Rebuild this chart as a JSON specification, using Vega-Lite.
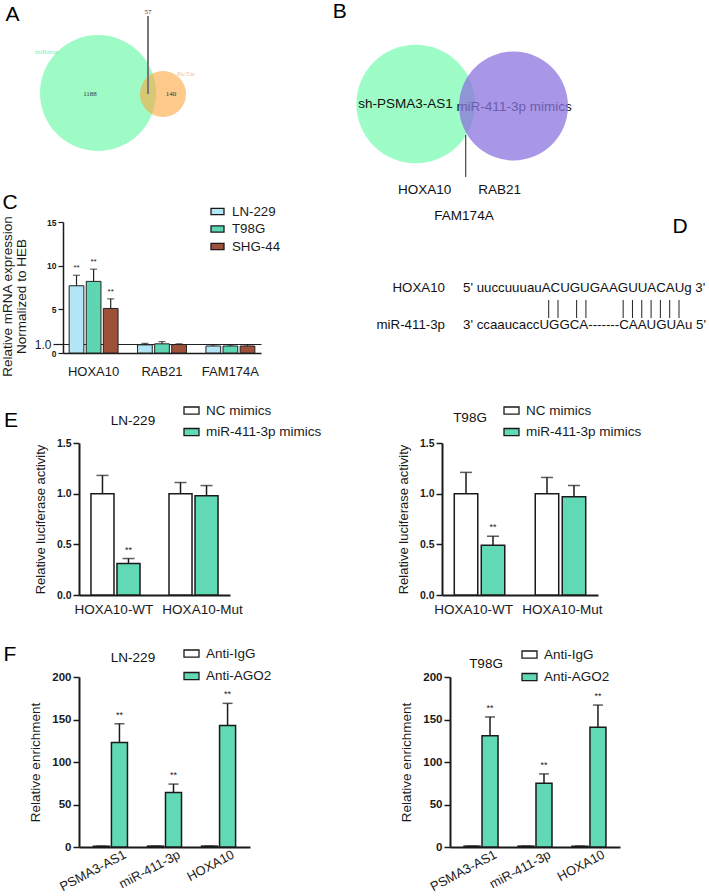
{
"$schema":"https://vega.github.io/schema/vega-lite/v6.json",
"padding":0,
"columns":4,
"align":"each",
"bounds":"flush",
"spacing":0,
"resolve":{"scale":{"x":"independent","y":"independent","fill":"independent","color":"independent","size":"independent"},"legend":{"fill":"independent","color":"independent","size":"independent"},"axis":{"x":"independent","y":"independent"}},
"config":{
 "font":"Liberation Sans",
 "view":{"stroke":null},
 "axis":{"grid":false,"domainColor":"#1a1a1a","tickColor":"#1a1a1a","labelColor":"#1a1a1a","titleColor":"#1a1a1a","titleFontWeight":"normal"},
 "legend":{"padding":0,"labelColor":"#1a1a1a","symbolType":"M-1,-0.47H1V0.47H-1Z","symbolStrokeColor":"#1a1a1a","symbolStrokeWidth":1.3,"symbolOpacity":1},
 "text":{"color":"#1a1a1a"}
},
"datasets":{
 "vennA_sets":[{"set":"miRmap","n":1245},{"set":"PicTar","n":197}],
 "vennA_regions":[{"region":"miRmap only","count":1188},{"region":"PicTar only","count":140}],
 "vennA_both":[{"region":"both","count":57}],
 "vennB_names":[{"set":"sh-PSMA3-AS1"},{"set":"miR-411-3p mimics"}],
 "mrna":[
  {"bar":"HOXA10 LN-229","gene":"HOXA10","line":"LN-229","value":7.7,"hi":8.9,"sig":"**"},
  {"bar":"HOXA10 T98G","gene":"HOXA10","line":"T98G","value":8.2,"hi":9.6,"sig":"**"},
  {"bar":"HOXA10 SHG-44","gene":"HOXA10","line":"SHG-44","value":5.1,"hi":6.2,"sig":"**"},
  {"bar":"RAB21 LN-229","gene":"RAB21","line":"LN-229","value":0.93,"hi":1.1,"sig":""},
  {"bar":"RAB21 T98G","gene":"RAB21","line":"T98G","value":1.05,"hi":1.3,"sig":""},
  {"bar":"RAB21 SHG-44","gene":"RAB21","line":"SHG-44","value":0.97,"hi":1.05,"sig":""},
  {"bar":"FAM174A LN-229","gene":"FAM174A","line":"LN-229","value":0.8,"hi":0.95,"sig":""},
  {"bar":"FAM174A T98G","gene":"FAM174A","line":"T98G","value":0.8,"hi":0.93,"sig":""},
  {"bar":"FAM174A SHG-44","gene":"FAM174A","line":"SHG-44","value":0.8,"hi":0.95,"sig":""}],
 "seq":[{"strand":"HOXA10","seq":"5' uuccuuuauACUGUGAAGUUACAUg 3'"},{"strand":"miR-411-3p","seq":"3' ccaaucaccUGGCA-------CAAUGUAu 5'"}],
 "pairs":[{"pos":12},{"pos":13},{"pos":15},{"pos":16},{"pos":20},{"pos":21},{"pos":22},{"pos":23},{"pos":24},{"pos":25},{"pos":26}],
 "luc_ln229":[
  {"bar":"HOXA10-WT NC","group":"NC mimics","value":1.0,"hi":1.18,"sig":""},
  {"bar":"HOXA10-WT miR","group":"miR-411-3p mimics","value":0.31,"hi":0.36,"sig":"**"},
  {"bar":"HOXA10-Mut NC","group":"NC mimics","value":1.0,"hi":1.11,"sig":""},
  {"bar":"HOXA10-Mut miR","group":"miR-411-3p mimics","value":0.98,"hi":1.08,"sig":""}],
 "luc_t98g":[
  {"bar":"HOXA10-WT NC","group":"NC mimics","value":1.0,"hi":1.21,"sig":""},
  {"bar":"HOXA10-WT miR","group":"miR-411-3p mimics","value":0.49,"hi":0.58,"sig":"**"},
  {"bar":"HOXA10-Mut NC","group":"NC mimics","value":1.0,"hi":1.16,"sig":""},
  {"bar":"HOXA10-Mut miR","group":"miR-411-3p mimics","value":0.97,"hi":1.08,"sig":""}],
 "rip_ln229":[
  {"bar":"PSMA3-AS1 IgG","ab":"Anti-IgG","value":1,"hi":1,"sig":""},
  {"bar":"PSMA3-AS1 AGO2","ab":"Anti-AGO2","value":123,"hi":145,"sig":"**"},
  {"bar":"miR-411-3p IgG","ab":"Anti-IgG","value":1,"hi":1,"sig":""},
  {"bar":"miR-411-3p AGO2","ab":"Anti-AGO2","value":64,"hi":74,"sig":"**"},
  {"bar":"HOXA10 IgG","ab":"Anti-IgG","value":1,"hi":1,"sig":""},
  {"bar":"HOXA10 AGO2","ab":"Anti-AGO2","value":143,"hi":169,"sig":"**"}],
 "rip_t98g":[
  {"bar":"PSMA3-AS1 IgG","ab":"Anti-IgG","value":1,"hi":1,"sig":""},
  {"bar":"PSMA3-AS1 AGO2","ab":"Anti-AGO2","value":131,"hi":153,"sig":"**"},
  {"bar":"miR-411-3p IgG","ab":"Anti-IgG","value":1,"hi":1,"sig":""},
  {"bar":"miR-411-3p AGO2","ab":"Anti-AGO2","value":75,"hi":86,"sig":"**"},
  {"bar":"HOXA10 IgG","ab":"Anti-IgG","value":1,"hi":1,"sig":""},
  {"bar":"HOXA10 AGO2","ab":"Anti-AGO2","value":141,"hi":167,"sig":"**"}]
},
"concat":[
 {"width":60,"height":222,
  "layer":[
   {"data":{"name":"vennA_sets"},"mark":{"type":"point","filled":true,"shape":"circle","strokeWidth":0,"opacity":0.6},
    "encoding":{
     "x":{"field":"set","type":"nominal","scale":{"type":"point","domain":["miRmap","PicTar"],"range":[95,160],"padding":0},"axis":null},
     "y":{"field":"set","type":"nominal","scale":{"type":"point","domain":["miRmap","PicTar"],"range":[93,94],"padding":0},"axis":null},
     "size":{"field":"n","type":"quantitative","scale":{"domain":[0,1245],"range":[0,13456]},"legend":null},
     "color":{"field":"set","type":"nominal","scale":{"domain":["miRmap","PicTar"],"range":["#5ff8a0","#fca73f"]},"legend":null}}},
   {"data":{"name":"vennA_regions"},"mark":{"type":"text","font":"Liberation Serif","fontSize":7,"color":"#333333"},
    "encoding":{"text":{"field":"count"},
     "x":{"field":"region","type":"nominal","scale":{"type":"point","domain":["miRmap only","PicTar only"],"range":[87,168],"padding":0},"axis":null},
     "y":{"field":"region","type":"nominal","scale":{"type":"point","range":[94,94],"padding":0},"axis":null}}},
   {"data":{"name":"vennA_sets"},"mark":{"type":"text","font":"Liberation Serif","fontSize":7},
    "encoding":{"text":{"field":"set"},
     "x":{"field":"set","type":"nominal","scale":{"type":"point","domain":["miRmap","PicTar"],"range":[44,183],"padding":0},"axis":null},
     "y":{"field":"set","type":"nominal","scale":{"type":"point","domain":["miRmap","PicTar"],"range":[52,74],"padding":0},"axis":null},
     "color":{"field":"set","type":"nominal","scale":{"domain":["miRmap","PicTar"],"range":["#86eeb0","#f7bf7e"]},"legend":null}}},
   {"data":{"name":"vennA_both"},"mark":{"type":"rule","color":"#777777","strokeWidth":2},
    "encoding":{
     "x":{"field":"region","type":"nominal","scale":{"type":"point","range":[145,145],"padding":0},"axis":null},
     "y":{"datum":"top","type":"nominal","scale":{"type":"point","domain":["top","bottom"],"range":[16,94],"padding":0},"axis":null},
     "y2":{"datum":"bottom"}}},
   {"data":{"name":"vennA_both"},"mark":{"type":"text","font":"Liberation Serif","fontSize":7,"color":"#333333"},
    "encoding":{"text":{"field":"count"},
     "x":{"field":"region","type":"nominal","scale":{"type":"point","range":[145,145],"padding":0},"axis":null},
     "y":{"field":"region","type":"nominal","scale":{"type":"point","range":[12,12],"padding":0},"axis":null}}},
   {"data":{"values":[{"k":"A"}]},"mark":{"type":"text","fontSize":21,"color":"#000000"},
    "encoding":{"text":{"field":"k"},
     "x":{"field":"k","type":"nominal","scale":{"type":"point","range":[9.5,9.5],"padding":0},"axis":null},
     "y":{"field":"k","type":"nominal","scale":{"type":"point","range":[15,15],"padding":0},"axis":null}}}
  ],
  "resolve":{"scale":{"x":"independent","y":"independent","color":"independent","size":"independent"}}
 },
 {"width":1,"height":1,"data":{"values":[]},"mark":"point"},
 {"width":181,"height":222,
  "layer":[
   {"data":{"values":[{"set":"sh-PSMA3-AS1"}]},"mark":{"type":"point","filled":true,"shape":"circle","strokeWidth":0,"opacity":1,"color":"#9efcc7","size":14065},
    "encoding":{
     "x":{"field":"set","type":"nominal","scale":{"type":"point","range":[154.7,154.7],"padding":0},"axis":null},
     "y":{"field":"set","type":"nominal","scale":{"type":"point","range":[104,104],"padding":0},"axis":null}}},
   {"data":{"name":"vennB_names"},"mark":{"type":"text","fontSize":13.5,"color":"#111111"},
    "encoding":{"text":{"field":"set"},
     "x":{"field":"set","type":"nominal","scale":{"type":"point","domain":["sh-PSMA3-AS1","miR-411-3p mimics"],"range":[144.5,253],"padding":0},"axis":null},
     "y":{"field":"set","type":"nominal","scale":{"type":"point","domain":["sh-PSMA3-AS1","miR-411-3p mimics"],"range":[104,107],"padding":0},"axis":null}}},
   {"data":{"values":[{"set":"miR-411-3p mimics"}]},"mark":{"type":"point","filled":true,"shape":"circle","strokeWidth":0,"opacity":0.75,"color":"#8b73dd","size":11881},
    "encoding":{
     "x":{"field":"set","type":"nominal","scale":{"type":"point","range":[252.5,252.5],"padding":0},"axis":null},
     "y":{"field":"set","type":"nominal","scale":{"type":"point","range":[106,106],"padding":0},"axis":null}}},
   {"data":{"values":[{"region":"overlap"}]},"mark":{"type":"rule","color":"#444444","strokeWidth":1.2},
    "encoding":{
     "x":{"field":"region","type":"nominal","scale":{"type":"point","range":[204.7,204.7],"padding":0},"axis":null},
     "y":{"datum":"top","type":"nominal","scale":{"type":"point","domain":["top","bottom"],"range":[135,177],"padding":0},"axis":null},
     "y2":{"datum":"bottom"}}},
   {"data":{"values":[{"gene":"HOXA10"},{"gene":"RAB21"}]},"mark":{"type":"text","fontSize":13.5,"color":"#111111"},
    "encoding":{"text":{"field":"gene"},
     "x":{"field":"gene","type":"nominal","scale":{"type":"point","domain":["HOXA10","RAB21"],"range":[163.7,238.7],"padding":0},"axis":null},
     "y":{"field":"gene","type":"nominal","scale":{"type":"point","range":[190,190],"padding":0},"axis":null}}},
   {"data":{"values":[{"gene":"FAM174A"}]},"mark":{"type":"text","fontSize":13.5,"color":"#111111"},
    "encoding":{"text":{"field":"gene"},
     "x":{"field":"gene","type":"nominal","scale":{"type":"point","range":[203,203],"padding":0},"axis":null},
     "y":{"field":"gene","type":"nominal","scale":{"type":"point","range":[216,216],"padding":0},"axis":null}}},
   {"data":{"values":[{"k":"B"}]},"mark":{"type":"text","fontSize":21,"color":"#000000"},
    "encoding":{"text":{"field":"k"},
     "x":{"field":"k","type":"nominal","scale":{"type":"point","range":[78.7,78.7],"padding":0},"axis":null},
     "y":{"field":"k","type":"nominal","scale":{"type":"point","range":[12,12],"padding":0},"axis":null}}}
  ],
  "resolve":{"scale":{"x":"independent","y":"independent"}}
 },
 {"width":1,"height":1,"data":{"values":[]},"mark":"point"},

 {"width":60,"height":221,"data":{"values":[{"k":"C"}]},"mark":{"type":"text","fontSize":21,"color":"#000000"},
  "encoding":{"text":{"field":"k"},
   "x":{"field":"k","type":"nominal","scale":{"type":"point","range":[7,7],"padding":0},"axis":null},
   "y":{"field":"k","type":"nominal","scale":{"type":"point","range":[-19,-19],"padding":0},"axis":null}}},
 {"width":198,"height":131,"data":{"name":"mrna"},
  "encoding":{
   "x":{"field":"bar","type":"nominal","scale":{"type":"band","domain":["HOXA10 LN-229","HOXA10 T98G","HOXA10 SHG-44","gap 1","RAB21 LN-229","RAB21 T98G","RAB21 SHG-44","gap 2","FAM174A LN-229","FAM174A T98G","FAM174A SHG-44"],"paddingInner":0.14,"paddingOuter":0.36},
    "axis":{"title":null,"values":["HOXA10 T98G","RAB21 T98G","FAM174A T98G"],"labelExpr":"split(datum.value, ' ')[0]","labelAngle":0,"labelFontSize":13,"ticks":false,"labelPadding":12,"domainWidth":1.5}},
   "y":{"field":"value","type":"quantitative","scale":{"domain":[0,15]},
    "axis":{"title":["Relative mRNA expression","Normalized to HEB"],"titleFontSize":13.5,"titlePadding":6,"titleLineHeight":14,"titleY":74,
     "values":[0,1,5,10,15],"labelExpr":"datum.value == 1 ? '1.0' : datum.label",
     "labelFontSize":{"condition":{"test":"datum.value == 1","value":12},"value":8.5},
     "labelFontWeight":{"condition":{"test":"datum.value == 1","value":"normal"},"value":"bold"},
     "tickSize":{"condition":{"test":"datum.value == 1","value":10},"value":5},
     "grid":true,"gridColor":"#222222","gridWidth":1,"gridOpacity":{"condition":{"test":"datum.value == 1","value":1},"value":0},
     "labelPadding":2,"tickWidth":1.2,"domainWidth":1.5}}},
  "layer":[
   {"mark":{"type":"bar","stroke":"#222222","strokeWidth":1},
    "encoding":{
     "fill":{"field":"line","type":"nominal","scale":{"domain":["LN-229","T98G","SHG-44"],"range":["#b2e5f6","#5fd6b2","#9e503b"]},
      "legend":{"title":null,"orient":"none","legendX":147,"legendY":-18,"labelFontSize":13.3,"symbolSize":169,"rowPadding":3.5,"labelOffset":7}}}},
   {"mark":{"type":"rule","color":"#222222","strokeWidth":1.2},"encoding":{"y2":{"field":"hi"}}},
   {"mark":{"type":"tick","color":"#222222","thickness":1.2,"size":7},"encoding":{"y":{"field":"hi","type":"quantitative"}}},
   {"mark":{"type":"text","baseline":"bottom","dy":-3,"fontSize":8,"color":"#222222"},"encoding":{"y":{"field":"hi","type":"quantitative"},"text":{"field":"sig"}}}
  ]
 },
 {"width":181,"height":221,
  "layer":[
   {"data":{"name":"seq"},"mark":{"type":"text","align":"right","fontSize":13.3,"color":"#111111"},
    "encoding":{"text":{"field":"strand"},
     "x":{"field":"strand","type":"nominal","scale":{"type":"point","range":[184,184],"padding":0},"axis":null},
     "y":{"field":"strand","type":"nominal","scale":{"type":"point","domain":["HOXA10","miR-411-3p"],"range":[66,103],"padding":0},"axis":null}}},
   {"data":{"name":"seq"},"mark":{"type":"text","align":"left","fontSize":13.3,"color":"#111111"},
    "encoding":{"text":{"field":"seq"},
     "x":{"field":"strand","type":"nominal","scale":{"type":"point","range":[202,202],"padding":0},"axis":null},
     "y":{"field":"strand","type":"nominal","scale":{"type":"point","domain":["HOXA10","miR-411-3p"],"range":[66,103],"padding":0},"axis":null}}},
   {"data":{"name":"pairs"},"mark":{"type":"rule","color":"#222222","strokeWidth":1},
    "encoding":{
     "x":{"field":"pos","type":"quantitative","scale":{"domain":[12,26],"range":[287.7,418]},"axis":null},
     "y":{"datum":"top","type":"nominal","scale":{"type":"point","domain":["top","bottom"],"range":[78,96],"padding":0},"axis":null},
     "y2":{"datum":"bottom"}}},
   {"data":{"values":[{"k":"D"}]},"mark":{"type":"text","fontSize":21,"color":"#000000"},
    "encoding":{"text":{"field":"k"},
     "x":{"field":"k","type":"nominal","scale":{"type":"point","range":[419,419],"padding":0},"axis":null},
     "y":{"field":"k","type":"nominal","scale":{"type":"point","range":[5,5],"padding":0},"axis":null}}}
  ],
  "resolve":{"scale":{"x":"independent","y":"independent"}}
 },
 {"width":1,"height":1,"data":{"values":[]},"mark":"point"},

 {"width":60,"height":234,
  "layer":[
   {"data":{"values":[{"k":"E"}]},"mark":{"type":"text","fontSize":21,"color":"#000000"},
    "encoding":{"text":{"field":"k"},
     "x":{"field":"k","type":"nominal","scale":{"type":"point","range":[8,8],"padding":0},"axis":null},
     "y":{"field":"k","type":"nominal","scale":{"type":"point","range":[-22,-22],"padding":0},"axis":null}}},
   {"data":{"values":[{"k":"LN-229"}]},"mark":{"type":"text","fontSize":13.5,"color":"#111111"},
    "encoding":{"text":{"field":"k"},
     "x":{"field":"k","type":"nominal","scale":{"type":"point","range":[130,130],"padding":0},"axis":null},
     "y":{"field":"k","type":"nominal","scale":{"type":"point","range":[-22,-22],"padding":0},"axis":null}}}
  ],
  "resolve":{"scale":{"x":"independent","y":"independent"}}
 },
 {"width":167,"height":152,"data":{"name":"luc_ln229"},
  "encoding":{
   "x":{"field":"bar","type":"nominal","scale":{"type":"band","domain":["HOXA10-WT NC","HOXA10-WT miR","gap","HOXA10-Mut NC","HOXA10-Mut miR"],"range":[16,167],"paddingInner":0.115,"paddingOuter":0.46},
    "axis":{"title":null,"values":["HOXA10-WT NC","HOXA10-Mut NC"],"labelExpr":"split(datum.value, ' ')[0]","labelAngle":0,"labelFontSize":13.5,"ticks":false,"labelPadding":7,"domainWidth":2,
     "labelOffset":{"condition":{"test":"datum.value == 'HOXA10-Mut NC'","value":22},"value":11.5}}},
   "y":{"field":"value","type":"quantitative","scale":{"domain":[0,1.5]},"axis":{"offset":-16,"title":"Relative luciferase activity","titleFontSize":13,"titlePadding":9,"values":[0,0.5,1,1.5],"format":".1f","labelFontWeight":"bold","labelFontSize":10.5,"labelPadding":2,"tickSize":6,"tickWidth":1.5,"domainWidth":2}}
  },
  "layer":[
   {"mark":{"type":"bar","stroke":"#1a1a1a","strokeWidth":1.5},
    "encoding":{"fill":{"field":"group","type":"nominal","scale":{"domain":["NC mimics","miR-411-3p mimics"],"range":["#ffffff","#62d9b5"]},
     "legend":{"title":null,"orient":"none","legendX":120,"legendY":-41,"labelFontSize":13.5,"symbolSize":225,"rowPadding":6.5,"labelOffset":6}}}},
   {"mark":{"type":"rule","color":"#1a1a1a","strokeWidth":1.5},"encoding":{"y2":{"field":"hi"}}},
   {"mark":{"type":"tick","color":"#1a1a1a","thickness":1.5,"size":12},"encoding":{"y":{"field":"hi","type":"quantitative"}}},
   {"mark":{"type":"text","baseline":"bottom","dy":-4,"fontSize":9,"color":"#1a1a1a"},"encoding":{"y":{"field":"hi","type":"quantitative"},"text":{"field":"sig"}}}
  ]
 },
 {"width":181,"height":234,"data":{"values":[{"k":"T98G"}]},"mark":{"type":"text","fontSize":13.5,"color":"#111111"},
  "encoding":{"text":{"field":"k"},
   "x":{"field":"k","type":"nominal","scale":{"type":"point","range":[209,209],"padding":0},"axis":null},
   "y":{"field":"k","type":"nominal","scale":{"type":"point","range":[-25,-25],"padding":0},"axis":null}}},
 {"width":156,"height":152,"data":{"name":"luc_t98g"},
  "encoding":{
   "x":{"field":"bar","type":"nominal","scale":{"type":"band","domain":["HOXA10-WT NC","HOXA10-WT miR","gap","HOXA10-Mut NC","HOXA10-Mut miR"],"paddingInner":0.13,"paddingOuter":0.455},
    "axis":{"title":null,"values":["HOXA10-WT NC","HOXA10-Mut NC"],"labelExpr":"split(datum.value, ' ')[0]","labelAngle":0,"labelFontSize":13.5,"ticks":false,"labelPadding":7,"domainWidth":2,
     "labelOffset":{"condition":{"test":"datum.value == 'HOXA10-Mut NC'","value":15.5},"value":7.5}}},
   "y":{"field":"value","type":"quantitative","scale":{"domain":[0,1.5]},"axis":{"title":"Relative luciferase activity","titleFontSize":13,"titlePadding":9,"values":[0,0.5,1,1.5],"format":".1f","labelFontWeight":"bold","labelFontSize":10.5,"labelPadding":2,"tickSize":6,"tickWidth":1.5,"domainWidth":2}}
  },
  "layer":[
   {"mark":{"type":"bar","stroke":"#1a1a1a","strokeWidth":1.5},
    "encoding":{"fill":{"field":"group","type":"nominal","scale":{"domain":["NC mimics","miR-411-3p mimics"],"range":["#ffffff","#62d9b5"]},
     "legend":{"title":null,"orient":"none","legendX":61,"legendY":-41,"labelFontSize":13.5,"symbolSize":225,"rowPadding":6.5,"labelOffset":6}}}},
   {"mark":{"type":"rule","color":"#1a1a1a","strokeWidth":1.5},"encoding":{"y2":{"field":"hi"}}},
   {"mark":{"type":"tick","color":"#1a1a1a","thickness":1.5,"size":12},"encoding":{"y":{"field":"hi","type":"quantitative"}}},
   {"mark":{"type":"text","baseline":"bottom","dy":-4,"fontSize":9,"color":"#1a1a1a"},"encoding":{"y":{"field":"hi","type":"quantitative"},"text":{"field":"sig"}}}
  ]
 },

 {"width":60,"height":219,
  "layer":[
   {"data":{"values":[{"k":"F"}]},"mark":{"type":"text","fontSize":21,"color":"#000000"},
    "encoding":{"text":{"field":"k"},
     "x":{"field":"k","type":"nominal","scale":{"type":"point","range":[7,7],"padding":0},"axis":null},
     "y":{"field":"k","type":"nominal","scale":{"type":"point","range":[-22,-22],"padding":0},"axis":null}}},
   {"data":{"values":[{"k":"LN-229"}]},"mark":{"type":"text","fontSize":13.5,"color":"#111111"},
    "encoding":{"text":{"field":"k"},
     "x":{"field":"k","type":"nominal","scale":{"type":"point","range":[130,130],"padding":0},"axis":null},
     "y":{"field":"k","type":"nominal","scale":{"type":"point","range":[-19,-19],"padding":0},"axis":null}}}
  ],
  "resolve":{"scale":{"x":"independent","y":"independent"}}
 },
 {"width":187,"height":170,"data":{"name":"rip_ln229"},
  "encoding":{
   "x":{"field":"bar","type":"nominal","scale":{"type":"band","domain":["PSMA3-AS1 IgG","PSMA3-AS1 AGO2","gap 1","miR-411-3p IgG","miR-411-3p AGO2","gap 2","HOXA10 IgG","HOXA10 AGO2"],"range":[16,187],"paddingInner":0.11,"paddingOuter":0.8},
    "axis":{"title":null,"values":["PSMA3-AS1 IgG","miR-411-3p IgG","HOXA10 IgG"],"labelExpr":"split(datum.value, ' ')[0]","labelAngle":-28,"labelAlign":"right","labelBaseline":"top","labelOffset":21,"labelFontSize":13,"ticks":false,"labelPadding":1,"domainWidth":2}},
   "y":{"field":"value","type":"quantitative","scale":{"domain":[0,200]},"axis":{"offset":-16,"title":"Relative enrichment","titleFontSize":13.5,"titlePadding":9,"values":[0,50,100,150,200],"labelFontWeight":"bold","labelFontSize":11.5,"labelPadding":2,"tickSize":6,"tickWidth":1.5,"domainWidth":2}}
  },
  "layer":[
   {"mark":{"type":"bar","stroke":"#1a1a1a","strokeWidth":1.5},
    "encoding":{"fill":{"field":"ab","type":"nominal","scale":{"domain":["Anti-IgG","Anti-AGO2"],"range":["#ffffff","#62d9b5"]},
     "legend":{"title":null,"orient":"none","legendX":120,"legendY":-32,"labelFontSize":13.5,"symbolSize":225,"rowPadding":7.5,"labelOffset":6}}}},
   {"mark":{"type":"rule","color":"#1a1a1a","strokeWidth":1.5},"encoding":{"y2":{"field":"hi"}}},
   {"mark":{"type":"tick","color":"#1a1a1a","thickness":1.5,"size":10},"encoding":{"y":{"field":"hi","type":"quantitative"}}},
   {"mark":{"type":"text","baseline":"bottom","dy":-4,"fontSize":9,"color":"#1a1a1a"},"encoding":{"y":{"field":"hi","type":"quantitative"},"text":{"field":"sig"}}}
  ]
 },
 {"width":181,"height":219,"data":{"values":[{"k":"T98G"}]},"mark":{"type":"text","fontSize":13.5,"color":"#111111"},
  "encoding":{"text":{"field":"k"},
   "x":{"field":"k","type":"nominal","scale":{"type":"point","range":[225,225],"padding":0},"axis":null},
   "y":{"field":"k","type":"nominal","scale":{"type":"point","range":[-13,-13],"padding":0},"axis":null}}},
 {"width":178,"height":170,"data":{"name":"rip_t98g"},
  "encoding":{
   "x":{"field":"bar","type":"nominal","scale":{"type":"band","domain":["PSMA3-AS1 IgG","PSMA3-AS1 AGO2","gap 1","miR-411-3p IgG","miR-411-3p AGO2","gap 2","HOXA10 IgG","HOXA10 AGO2"],"range":[8,178],"paddingInner":0.11,"paddingOuter":0.78},
    "axis":{"title":null,"values":["PSMA3-AS1 IgG","miR-411-3p IgG","HOXA10 IgG"],"labelExpr":"split(datum.value, ' ')[0]","labelAngle":-28,"labelAlign":"right","labelBaseline":"top","labelOffset":21,"labelFontSize":13,"ticks":false,"labelPadding":1,"domainWidth":2}},
   "y":{"field":"value","type":"quantitative","scale":{"domain":[0,200]},"axis":{"offset":-8,"title":"Relative enrichment","titleFontSize":13.5,"titlePadding":9,"values":[0,50,100,150,200],"labelFontWeight":"bold","labelFontSize":11.5,"labelPadding":2,"tickSize":6,"tickWidth":1.5,"domainWidth":2}}
  },
  "layer":[
   {"mark":{"type":"bar","stroke":"#1a1a1a","strokeWidth":1.5},
    "encoding":{"fill":{"field":"ab","type":"nominal","scale":{"domain":["Anti-IgG","Anti-AGO2"],"range":["#ffffff","#62d9b5"]},
     "legend":{"title":null,"orient":"none","legendX":79,"legendY":-31,"labelFontSize":13.5,"symbolSize":225,"rowPadding":7.5,"labelOffset":6}}}},
   {"mark":{"type":"rule","color":"#1a1a1a","strokeWidth":1.5},"encoding":{"y2":{"field":"hi"}}},
   {"mark":{"type":"tick","color":"#1a1a1a","thickness":1.5,"size":10},"encoding":{"y":{"field":"hi","type":"quantitative"}}},
   {"mark":{"type":"text","baseline":"bottom","dy":-4,"fontSize":9,"color":"#1a1a1a"},"encoding":{"y":{"field":"hi","type":"quantitative"},"text":{"field":"sig"}}}
  ]
 }
]
}
